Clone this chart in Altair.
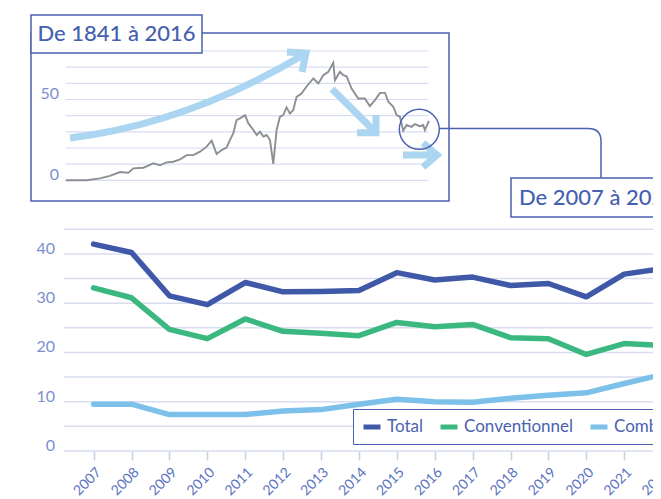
import altair as alt
import pandas as pd

# ---------------- data ----------------
years = list(range(2007, 2023))
total = [42.0, 40.3, 31.5, 29.7, 34.2, 32.3, 32.4, 32.6, 36.2, 34.7, 35.3, 33.6, 34.0, 31.3, 35.9, 37.0]
conventionnel = [33.1, 31.1, 24.7, 22.8, 26.8, 24.3, 23.9, 23.4, 26.1, 25.2, 25.7, 23.0, 22.8, 19.6, 21.8, 21.4]
combine = [9.5, 9.5, 7.4, 7.4, 7.4, 8.1, 8.4, 9.5, 10.5, 10.0, 9.9, 10.7, 11.3, 11.8, 13.7, 15.5]
series_names = ["Total", "Conventionnel", "Combiné"]
series_colors = ["#3f58a8", "#3bb87f", "#7dc1ea"]

hist_years = [1841, 1851, 1857.5, 1862.3, 1867.2, 1871.2, 1873.6, 1878.4, 1880.8, 1883.2,
              1886.4, 1889.6, 1892.8, 1896.1, 1899.3, 1902.5, 1905.7, 1908.9, 1911.3, 1913.7,
              1916.1, 1918.5, 1920.1, 1921.7, 1923.3, 1924.9, 1927.4, 1929.0, 1931.4, 1933.0,
              1934.6, 1936.2, 1937.8, 1939.4, 1941.0, 1942.6, 1944.2, 1945.8, 1947.4, 1949.0,
              1950.6, 1952.2, 1954.6, 1957.1, 1960.3, 1962.7, 1965.1, 1967.5, 1969.9, 1970.7,
              1973.1, 1974.7, 1976.3, 1978.7, 1981.9, 1985.1, 1987.5, 1990.0, 1992.4, 1994.8,
              1996.4, 1998.8, 2000.4, 2002.0, 2003.6, 2005.2, 2007.6, 2009.2, 2011.6, 2013.2,
              2014.0, 2016.0]
hist_values = [0, 0, 1.2, 2.7, 5.1, 4.7, 7.4, 7.8, 9.1, 10.5,
               9.3, 11.1, 11.5, 13.0, 15.6, 15.6, 17.7, 20.8, 24.5, 16.3,
               18.7, 20.2, 24.9, 29.0, 37.2, 38.3, 40.3, 35.2, 31.1, 28.0,
               30.0, 27.0, 28.0, 24.9, 10.1, 31.1, 39.3, 40.3, 45.1, 41.4,
               43.4, 51.6, 53.7, 58.2, 63.0, 59.9, 65.0, 67.1, 72.8, 61.9,
               67.1, 65.0, 64.4, 56.8, 50.6, 50.6, 45.9, 49.6, 54.1, 54.1,
               48.6, 45.5, 40.3, 39.3, 30.7, 34.2, 33.1, 34.8, 33.5, 34.2,
               31.1, 36.8]

main_labels = [0, 10, 20, 30, 40]
main_grid = [0, 5, 10, 15, 20, 25, 30, 35, 40, 45]
inset_labels = [0, 50]
inset_grid = [0, 10, 20, 30, 40, 50, 60, 70, 80]
x_ticks = list(range(2007, 2024))

# ---------------- styles ----------------
FONT = "Lato"
BOX = "#4a62b0"
TITLE = "#4560b0"
GRID = "#d9ddf0"
LABEL = "#7b8fd0"
ARROW = "#abd5f0"
W = 645

main_df = pd.DataFrame({
    "year": years * 3,
    "value": total + conventionnel + combine,
    "series": ["Total"] * len(years) + ["Conventionnel"] * len(years) + ["Combiné"] * len(years),
})
hist_df = pd.DataFrame({"year": hist_years, "value": hist_values})
deco = pd.DataFrame({"k": [0]})

main_x = alt.Scale(domain=[2006, 2023], range=[47.7, 692])
main_y = alt.Scale(domain=[0, 45], range=[443, 221.3])
inset_x = alt.Scale(domain=[1841, 2016], range=[57.7, 421])
inset_y = alt.Scale(domain=[0, 80], range=[172.3, 43])

# ---------------- inset ----------------
inset_box = alt.Chart(deco).mark_rect(fillOpacity=0, stroke=BOX, strokeWidth=1.5).encode(
    x=alt.value(23), x2=alt.value(441), y=alt.value(25), y2=alt.value(193))

inset_grid_layer = alt.Chart(pd.DataFrame({"v": inset_grid})).mark_rule(
    color=GRID, strokeWidth=1.2).encode(
    y=alt.Y("v:Q", scale=inset_y, axis=None),
    x=alt.value(57.7), x2=alt.value(420.3))

inset_lab = alt.Chart(pd.DataFrame({"v": inset_labels})).mark_text(
    align="right", baseline="alphabetic", font=FONT, fontSize=16, color=LABEL).encode(
    y=alt.Y("v:Q", scale=inset_y, axis=None),
    x=alt.value(51), text=alt.Text("v:Q"))

inset_line = alt.Chart(hist_df).mark_line(color="#8c9096", strokeWidth=1.9).encode(
    x=alt.X("year:Q", scale=inset_x, axis=None),
    y=alt.Y("value:Q", scale=inset_y, axis=None))

inset = alt.layer(inset_grid_layer, inset_lab, inset_line)


def symbol(path, cx, cy, size, color, width):
    return alt.Chart(deco).mark_point(
        shape=path, filled=False, stroke=color, strokeWidth=width, opacity=1, size=size
    ).encode(x=alt.value(cx), y=alt.value(cy))


curve_arrow = symbol(
    "M -1 0.369 Q 0 0.246 0.975 -0.335 M 0.839 -0.360 L 1 -0.352 L 0.966 -0.191",
    180, 86.5, 55696, ARROW, 7)
down_arrow = symbol(
    "M -1 -1 L 1 0.986 M 0.14 0.986 L 1 0.986 L 1 0.18",
    346, 103, 1936, ARROW, 7)
right_arrow = symbol(
    "M -1 0 L 1 0 M 0.18 -0.71 L 1 0 L 0.18 0.71",
    412, 147, 1156, ARROW, 7)
circle = alt.Chart(deco).mark_point(
    shape="circle", filled=False, stroke=BOX, strokeWidth=1.5, opacity=1, size=1600
).encode(x=alt.value(411.3), y=alt.value(121.3))
connector = symbol(
    "M -1 -0.306 L 0.839 -0.306 Q 1 -0.306 1 -0.150 L 1 0.308",
    512.5, 145.15, 25921, BOX, 1.5)

title1_box = alt.Chart(deco).mark_rect(fill="white", stroke=BOX, strokeWidth=1.5).encode(
    x=alt.value(23), x2=alt.value(194), y=alt.value(7), y2=alt.value(45))
title1 = alt.Chart(deco).mark_text(
    text="De 1841 à 2016", font=FONT, fontSize=22, fontWeight=500, color=TITLE,
    align="center", baseline="middle").encode(x=alt.value(108.5), y=alt.value(26))
title2_box = alt.Chart(deco).mark_rect(fill="white", stroke=BOX, strokeWidth=1.5).encode(
    x=alt.value(503), x2=alt.value(680), y=alt.value(170), y2=alt.value(209))
title2 = alt.Chart(deco).mark_text(
    text="De 2007 à 2022", font=FONT, fontSize=22, fontWeight=500, color=TITLE,
    align="left", baseline="middle").encode(x=alt.value(511), y=alt.value(189.5))

decor = alt.layer(inset_box, curve_arrow, down_arrow, right_arrow, circle, connector,
                  title1_box, title1, title2_box, title2)

# ---------------- main chart ----------------
main_grid_layer = alt.Chart(pd.DataFrame({"v": main_grid})).mark_rule(
    color=GRID, strokeWidth=1.5).encode(
    y=alt.Y("v:Q", scale=main_y, axis=None),
    x=alt.value(56), x2=alt.value(W))

main_lab = alt.Chart(pd.DataFrame({"v": main_labels})).mark_text(
    align="right", baseline="alphabetic", font=FONT, fontSize=16, color=LABEL).encode(
    y=alt.Y("v:Q", scale=main_y, axis=None),
    x=alt.value(47), text=alt.Text("v:Q"))

main_lines = alt.Chart(main_df).mark_line(
    strokeWidth=5.5, strokeCap="round", strokeJoin="round", clip=True).encode(
    x=alt.X("year:Q", scale=main_x,
            axis=alt.Axis(values=x_ticks, format="d", labelAngle=-45, domain=False, grid=False,
                          tickColor="#c9cfe8", tickSize=9, tickWidth=1.5, labelColor="#5b73c0",
                          labelFont=FONT, labelFontSize=14, labelPadding=5, title=None,
                          labelOverlap=False, labelBound=False, labelFlush=False)),
    y=alt.Y("value:Q", scale=main_y, axis=None),
    color=alt.Color("series:N",
                    scale=alt.Scale(domain=series_names, range=series_colors),
                    legend=alt.Legend(orient="none", legendX=345, legendY=401,
                                      direction="horizontal", title=None,
                                      strokeColor=BOX, fillColor="white", padding=7,
                                      labelFont=FONT, labelFontSize=17, labelColor=BOX,
                                      symbolType="stroke", symbolStrokeWidth=5,
                                      symbolSize=289, symbolOffset=1,
                                      columnPadding=6, labelOffset=4)),
    detail="series:N")

main = alt.layer(main_grid_layer, main_lab, main_lines)

chart = alt.layer(inset, decor, main).resolve_scale(
    x="independent", y="independent").properties(
    width=W, height=443,
    padding={"left": 0, "top": 0, "right": 0, "bottom": 56},
    autosize=alt.AutoSizeParams(type="none"),
).configure_view(stroke=None)

chart.save("out.html", embed_options={"renderer": "svg", "actions": False})
